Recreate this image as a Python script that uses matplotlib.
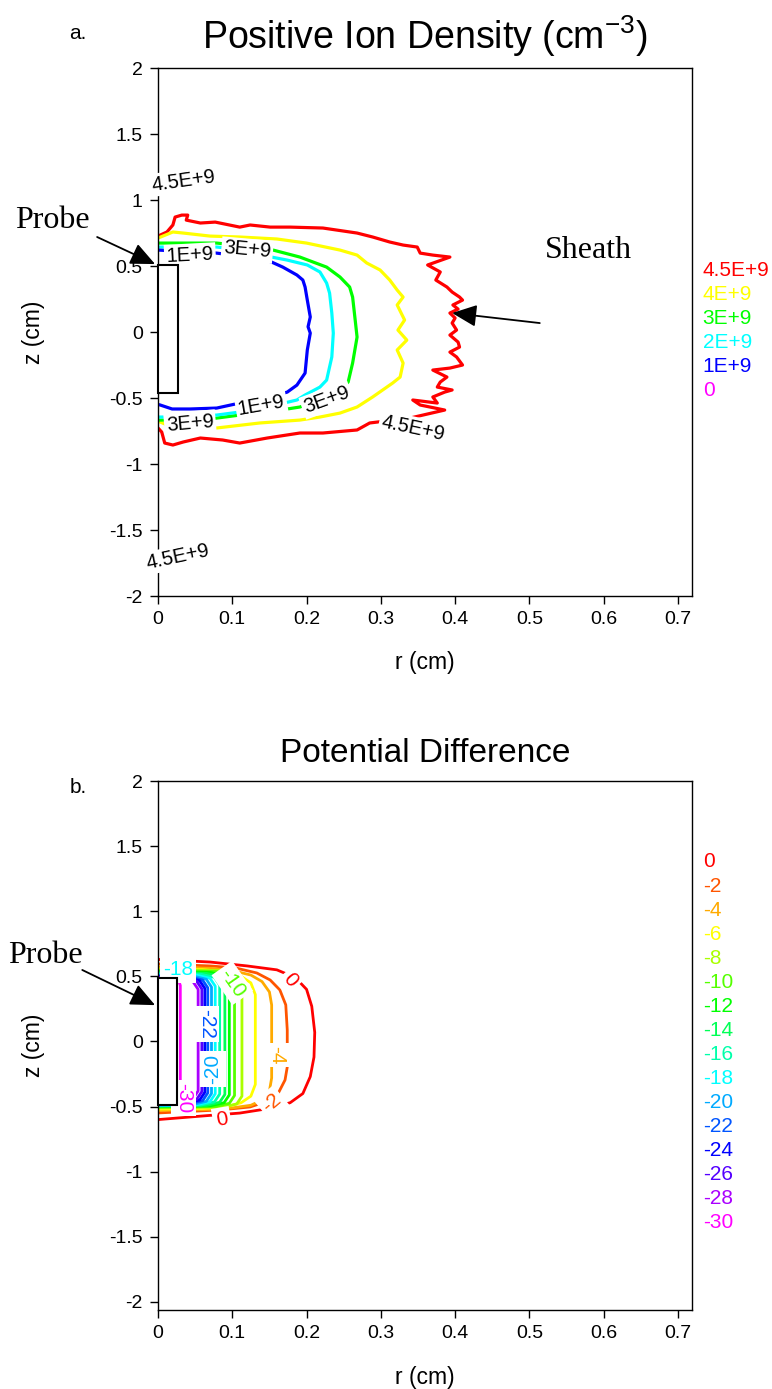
import matplotlib
matplotlib.use("Agg")
import matplotlib.pyplot as plt
from matplotlib.patches import Rectangle

plt.rcParams['font.family'] = ['Liberation Sans', 'DejaVu Sans']
plt.rcParams['axes.unicode_minus'] = False
plt.rcParams['mathtext.fontset'] = 'custom'
plt.rcParams['mathtext.rm'] = 'Liberation Sans'

# ---------------- axes ticks ----------------
r_ticks = [0, 0.1, 0.2, 0.3, 0.4, 0.5, 0.6, 0.7]
r_tick_labels = ['0', '0.1', '0.2', '0.3', '0.4', '0.5', '0.6', '0.7']
z_ticks = [-2, -1.5, -1, -0.5, 0, 0.5, 1, 1.5, 2]
z_tick_labels = ['-2', '-1.5', '-1', '-0.5', '0', '0.5', '1', '1.5', '2']

# ---------------- a. positive ion density contours (r, z in cm) ----------------
dens_levels = ['4.5E+9', '4E+9', '3E+9', '2E+9', '1E+9', '0']
dens_colors = ['#ff0000', '#ffff00', '#00ff00', '#00ffff', '#0000ff', '#ff00ff']

dens_45_r = [0, 0.012, 0.020, 0.023, 0.032, 0.040, 0.038, 0.057, 0.077, 0.110, 0.124, 0.151, 0.178,
             0.222, 0.268, 0.289, 0.312, 0.330, 0.349, 0.353, 0.370, 0.393, 0.363, 0.380, 0.374,
             0.389, 0.396, 0.406, 0.410, 0.397, 0.404, 0.393, 0.400, 0.396, 0.402, 0.393, 0.404,
             0.406, 0.393, 0.402, 0.410, 0.393, 0.370, 0.389, 0.380, 0.376, 0.396, 0.386, 0.370,
             0.376, 0.343, 0.353, 0.386, 0.339, 0.285, 0.268, 0.222, 0.191, 0.147, 0.110, 0.087,
             0.057, 0.034, 0.020, 0.009, 0.005, 0]
dens_45_z = [0.727, 0.758, 0.811, 0.871, 0.886, 0.886, 0.848, 0.826, 0.833, 0.795, 0.811, 0.795, 0.795,
             0.788, 0.750, 0.720, 0.682, 0.659, 0.644, 0.598, 0.583, 0.568, 0.508, 0.455, 0.394,
             0.341, 0.303, 0.265, 0.242, 0.205, 0.174, 0.144, 0.106, 0.068, 0.015, -0.023, -0.076,
             -0.114, -0.152, -0.189, -0.250, -0.273, -0.288, -0.341, -0.379, -0.417, -0.439, -0.455, -0.492,
             -0.538, -0.515, -0.553, -0.591, -0.652, -0.689, -0.742, -0.765, -0.765, -0.803, -0.841, -0.818,
             -0.803, -0.833, -0.856, -0.841, -0.758, -0.727]

dens_4_r = [0, 0.020, 0.034, 0.070, 0.110, 0.160, 0.200, 0.245, 0.268, 0.281, 0.299, 0.312, 0.322,
            0.330, 0.322, 0.332, 0.323, 0.335, 0.322, 0.330, 0.326, 0.316, 0.289, 0.268, 0.245,
            0.218, 0.191, 0.137, 0.079, 0.043, 0.019, 0.003]
dens_4_z = [0.712, 0.758, 0.750, 0.727, 0.720, 0.705, 0.674, 0.621, 0.583, 0.523, 0.470, 0.394, 0.318,
            0.265, 0.205, 0.091, 0.015, -0.061, -0.136, -0.235, -0.341, -0.386, -0.492, -0.568, -0.614,
            -0.644, -0.667, -0.689, -0.727, -0.742, -0.720, -0.682]

dens_3_r = [0, 0.079, 0.117, 0.155, 0.191, 0.227, 0.245, 0.258, 0.262, 0.265, 0.268, 0.262, 0.256,
            0.238, 0.218, 0.191, 0.148, 0.110, 0.079, 0.043, 0.003]
dens_3_z = [0.674, 0.674, 0.652, 0.621, 0.568, 0.492, 0.417, 0.341, 0.265, 0.114, -0.038, -0.235, -0.379,
            -0.477, -0.515, -0.568, -0.606, -0.629, -0.652, -0.667, -0.667]

dens_2_r = [0, 0.079, 0.117, 0.153, 0.174, 0.201, 0.218, 0.227, 0.231, 0.234, 0.236, 0.234, 0.227,
            0.218, 0.198, 0.187, 0.147, 0.110, 0.079, 0.043, 0.003]
dens_2_z = [0.644, 0.644, 0.621, 0.568, 0.545, 0.508, 0.455, 0.371, 0.295, 0.144, -0.008, -0.189, -0.364,
            -0.417, -0.477, -0.515, -0.568, -0.606, -0.629, -0.644, -0.644]

dens_1_r = [0, 0.079, 0.110, 0.140, 0.153, 0.168, 0.187, 0.195, 0.198, 0.201, 0.205, 0.202, 0.205,
            0.201, 0.198, 0.187, 0.174, 0.147, 0.110, 0.079, 0.043, 0.019, 0.003]
dens_1_z = [0.621, 0.598, 0.576, 0.553, 0.530, 0.492, 0.432, 0.394, 0.341, 0.242, 0.114, 0.040, -0.008,
            -0.136, -0.311, -0.402, -0.455, -0.500, -0.538, -0.576, -0.583, -0.583, -0.553]

dens_lines = [(dens_45_r, dens_45_z), (dens_4_r, dens_4_z), (dens_3_r, dens_3_z),
              (dens_2_r, dens_2_z), (dens_1_r, dens_1_z)]

# inline contour labels: text, r, z, rotation
dens_labels = [('4.5E+9', 0.034, 1.144, 8), ('1E+9', 0.043, 0.583, 3), ('3E+9', 0.120, 0.621, -5),
               ('1E+9', 0.139, -0.553, 10), ('3E+9', 0.043, -0.689, 5), ('3E+9', 0.227, -0.515, 20),
               ('4.5E+9', 0.343, -0.727, -12), ('4.5E+9', 0.027, -1.705, 12)]

# ---------------- b. potential difference contours ----------------
pot_levels = ['0', '-2', '-4', '-6', '-8', '-10', '-12', '-14', '-16', '-18', '-20', '-22',
              '-24', '-26', '-28', '-30']
pot_colors = ['#ff0000', '#ff5500', '#ffaa00', '#ffff00', '#aaff00', '#55ff00', '#00ff00', '#00ff55',
              '#00ffaa', '#00ffff', '#00aaff', '#0055ff', '#0000ff', '#5500ff', '#aa00ff', '#ff00ff']

pot_r = [
    [0.0, 0.07, 0.12, 0.16, 0.185, 0.200, 0.207, 0.211, 0.210, 0.205, 0.195, 0.178, 0.155, 0.11, 0.065, 0.0],
    [0, 0.070, 0.104, 0.133, 0.151, 0.164, 0.172, 0.174, 0.174, 0.171, 0.162, 0.144, 0.124, 0.083, 0],
    [0, 0.07, 0.10, 0.125, 0.140, 0.150, 0.153, 0.153, 0.150, 0.140, 0.125, 0.10, 0.07, 0],
    [0, 0.06, 0.09, 0.112, 0.125, 0.131, 0.131, 0.125, 0.112, 0.09, 0.06, 0],
    [0, 0.088, 0.106, 0.113, 0.113, 0.106, 0.088, 0],
    [0, 0.078, 0.096, 0.103, 0.103, 0.096, 0.078, 0],
    [0, 0.071, 0.089, 0.096, 0.096, 0.089, 0.071, 0],
    [0, 0.065, 0.083, 0.090, 0.090, 0.083, 0.065, 0],
    [0, 0.058, 0.076, 0.083, 0.083, 0.076, 0.058, 0],
    [0, 0.052, 0.070, 0.077, 0.077, 0.070, 0.052, 0],
    [0, 0.047, 0.065, 0.072, 0.072, 0.065, 0.047, 0],
    [0, 0.042, 0.060, 0.067, 0.067, 0.060, 0.042, 0],
    [0, 0.038, 0.056, 0.063, 0.063, 0.056, 0.038, 0],
    [0, 0.034, 0.052, 0.059, 0.059, 0.052, 0.034, 0],
    [0, 0.029, 0.047, 0.054, 0.054, 0.047, 0.029, 0],
    [0.027, 0.030, 0.030, 0.027],
]
pot_z = [
    [0.63, 0.61, 0.58, 0.55, 0.49, 0.40, 0.27, 0.07, -0.12, -0.27, -0.40, -0.47, -0.51, -0.55, -0.57, -0.60],
    [0.595, 0.580, 0.565, 0.526, 0.472, 0.396, 0.281, 0.088, -0.196, -0.296, -0.396, -0.465, -0.503, -0.526, -0.549],
    [0.572, 0.562, 0.545, 0.51, 0.46, 0.38, 0.28, -0.28, -0.38, -0.45, -0.49, -0.51, -0.522, -0.53],
    [0.558, 0.552, 0.535, 0.50, 0.45, 0.36, -0.33, -0.42, -0.47, -0.505, -0.515, -0.52],
    [0.55, 0.544, 0.52, 0.46, -0.42, -0.48, -0.504, -0.51],
    [0.543, 0.537, 0.513, 0.453, -0.415, -0.475, -0.499, -0.505],
    [0.536, 0.53, 0.506, 0.446, -0.41, -0.47, -0.494, -0.50],
    [0.529, 0.523, 0.499, 0.439, -0.407, -0.467, -0.491, -0.497],
    [0.522, 0.516, 0.492, 0.432, -0.404, -0.464, -0.488, -0.494],
    [0.515, 0.509, 0.485, 0.425, -0.402, -0.462, -0.486, -0.492],
    [0.508, 0.502, 0.478, 0.418, -0.40, -0.46, -0.484, -0.49],
    [0.502, 0.496, 0.472, 0.412, -0.395, -0.455, -0.479, -0.485],
    [0.497, 0.491, 0.467, 0.407, -0.39, -0.45, -0.474, -0.48],
    [0.493, 0.487, 0.463, 0.403, -0.385, -0.445, -0.469, -0.475],
    [0.49, 0.484, 0.46, 0.40, -0.38, -0.44, -0.464, -0.47],
    [0.48, 0.43, -0.45, -0.49],
]

# inline labels: text, r, z, rotation, color index
pot_labels = [('-18', 0.027, 0.549, 0, 9), ('-10', 0.100, 0.449, -55, 5), ('0', 0.178, 0.472, -50, 0),
              ('-22', 0.065, 0.134, -90, 11), ('-20', 0.074, -0.211, 90, 10), ('-4', 0.160, -0.104, -90, 2),
              ('-30', 0.034, -0.434, -90, 15), ('-2', 0.153, -0.472, 40, 1), ('0', 0.086, -0.603, 10, 0)]

# probe (r width, z bottom, z top)
probe_a = (0.027, -0.46, 0.51)
probe_b = (0.026, -0.49, 0.49)

fig = plt.figure(figsize=(7.72, 13.89), dpi=100)
ax1 = fig.add_axes([0.2047, 0.5709, 0.6917, 0.3801])
ax2 = fig.add_axes([0.2047, 0.0569, 0.6917, 0.3808])


def style_axes(ax, ylo):
    ax.set_xlim(0, 0.719)
    ax.set_ylim(ylo, 2.0)
    ax.set_xticks(r_ticks)
    ax.set_xticklabels(r_tick_labels)
    ax.set_yticks(z_ticks)
    ax.set_yticklabels(z_tick_labels)
    ax.tick_params(direction='out', length=6, width=1, labelsize=14, pad=5)
    for sp in ax.spines.values():
        sp.set_linewidth(1.0)
    ax.set_xlabel('r (cm)', fontsize=16.5)
    ax.set_ylabel('z (cm)', fontsize=16.5)
    ax.xaxis.set_label_coords(0.5, -0.105)
    ax.yaxis.set_label_coords(-0.212, 0.5)


arrow = dict(arrowstyle='-|>,head_length=0.6,head_width=0.27', color='black', lw=1.3,
             mutation_scale=25, shrinkA=0, shrinkB=0)

# ---- panel a ----
style_axes(ax1, -2.0)
for (rr, zz), c in zip(dens_lines, dens_colors):
    ax1.plot(rr, zz, color=c, lw=2.3, solid_joinstyle='round', zorder=2)
for txt, r, z, rot in dens_labels:
    ax1.text(r, z, txt, fontsize=14.5, rotation=rot, ha='center', va='center', zorder=4,
             bbox=dict(boxstyle='square,pad=0.1', fc='white', ec='none'))
ax1.add_patch(Rectangle((0, probe_a[1]), probe_a[0], probe_a[2] - probe_a[1],
                        fc='white', ec='black', lw=1.5, zorder=5, clip_on=False))
for i, (lab, c) in enumerate(zip(dens_levels, dens_colors)):
    ax1.text(1.02, 0.617 - i * 0.0455, lab, color=c, fontsize=15, va='center', ha='left',
             transform=ax1.transAxes)
ax1.set_title('Positive Ion Density (cm$^{\\mathregular{-3}}$)', fontsize=27, pad=14)
fig.text(0.101, 0.976, 'a.', fontsize=15, ha='center', va='center')

ax1.text(-0.193, 0.848, 'Probe', family='Liberation Serif', fontsize=23, ha='left', va='center')
ax1.annotate('', xy=(-0.004, 0.515), xytext=(-0.082, 0.720), arrowprops=arrow, annotation_clip=False)
ax1.text(0.521, 0.621, 'Sheath', family='Liberation Serif', fontsize=23, ha='left', va='center')
ax1.annotate('', xy=(0.396, 0.144), xytext=(0.514, 0.068), arrowprops=arrow, annotation_clip=False)

# ---- panel b ----
style_axes(ax2, -2.062)
for rr, zz, c in zip(pot_r, pot_z, pot_colors):
    ax2.plot(rr, zz, color=c, lw=2.0, solid_joinstyle='round', zorder=2)
for txt, r, z, rot, ci in pot_labels:
    ax2.text(r, z, txt, fontsize=15, rotation=rot, color=pot_colors[ci], ha='center', va='center',
             zorder=4, bbox=dict(boxstyle='square,pad=0.15', fc='white', ec='none'))
ax2.add_patch(Rectangle((0, probe_b[1]), probe_b[0], probe_b[2] - probe_b[1],
                        fc='white', ec='black', lw=1.5, zorder=5, clip_on=False))
for i, (lab, c) in enumerate(zip(pot_levels, pot_colors)):
    ax2.text(1.02, 0.847 - i * 0.0455, lab, color=c, fontsize=15, va='center', ha='left',
             transform=ax2.transAxes)
ax2.set_title('Potential Difference', fontsize=24, pad=14)
fig.text(0.101, 0.4327, 'b.', fontsize=15, ha='center', va='center')

ax2.text(-0.202, 0.664, 'Probe', family='Liberation Serif', fontsize=23, ha='left', va='center')
ax2.annotate('', xy=(-0.004, 0.279), xytext=(-0.102, 0.549), arrowprops=arrow, annotation_clip=False)

fig.savefig('out.png', dpi=100)
